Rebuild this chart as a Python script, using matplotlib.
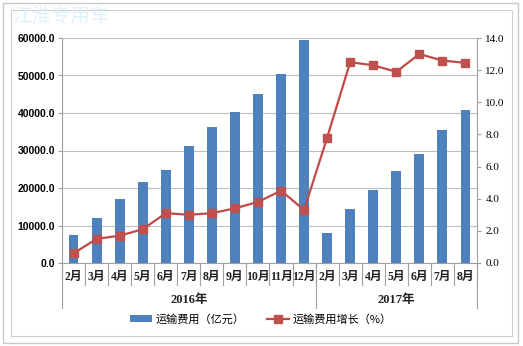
import matplotlib
matplotlib.use("Agg")
import matplotlib.pyplot as plt
from matplotlib.patches import Rectangle, Patch
from matplotlib.lines import Line2D
import matplotlib.transforms as mtransforms

months = ["2月", "3月", "4月", "5月", "6月", "7月", "8月", "9月", "10月", "11月", "12月",
          "2月", "3月", "4月", "5月", "6月", "7月", "8月"]
years = ["2016年", "2017年"]
year_counts = [11, 7]
cost = [7400, 12100, 17000, 21700, 24800, 31300, 36200, 40400, 45000, 50300, 59500,
        8000, 14400, 19600, 24450, 29200, 35400, 40800]
growth = [0.6, 1.5, 1.7, 2.1, 3.1, 3.0, 3.1, 3.4, 3.8, 4.5, 3.3,
          7.8, 12.5, 12.3, 11.9, 13.0, 12.6, 12.45]
left_ticks = [0, 10000, 20000, 30000, 40000, 50000, 60000]
right_ticks = [0, 2, 4, 6, 8, 10, 12, 14]

FAM = ["Liberation Serif", "Noto Sans CJK SC", "DejaVu Sans"]
CJK = ["Noto Sans CJK SC", "DejaVu Sans"]
BAR_C = "#4F81BD"
LINE_C = "#BE4B48"

fig = plt.figure(figsize=(5.23, 3.46), dpi=100)
W, H = 523, 346

# frames
fig.add_artist(Rectangle((3 / W, 1 - 343 / H), 515 / W, 340 / H, transform=fig.transFigure,
                         fill=False, edgecolor="#C8C8C8", linewidth=1.0))
fig.add_artist(Rectangle((10.5 / W, 1 - 336 / H), 501.5 / W, 326 / H, transform=fig.transFigure,
                         fill=False, edgecolor="#D0D0D0", linewidth=0.8))
fig.text(12 / W, 1 - 17 / H, "江淮专用车", family=CJK, fontsize=14, color="#E0F2F7",
         va="center", ha="left")

ax = fig.add_axes([62 / W, 1 - 263 / H, (477 - 62) / W, (263 - 38) / H])
x = list(range(len(months)))
ax.bar(x, cost, width=0.43, color=BAR_C, zorder=2)
ax.set_xlim(-0.5, len(months) - 0.5)
ax.set_ylim(0, 60000)
ax.set_yticks(left_ticks)
ax.set_yticklabels([f"{v:.1f}" for v in left_ticks], fontsize=7.5, fontweight="bold",
                   family="Liberation Sans")
ax.grid(axis="y", color="#BFBFBF", linewidth=0.8, zorder=0)
ax.set_axisbelow(True)
for s in ["top", "right"]:
    ax.spines[s].set_visible(False)
ax.spines["left"].set_color("#A0A0A0")
ax.spines["bottom"].set_color("#A0A0A0")
ax.tick_params(axis="y", length=3, color="#A0A0A0", pad=2)
ax.set_xticks([])

ax2 = ax.twinx()
ax2.plot(x, growth, color=LINE_C, linewidth=1.6, marker="s", markersize=6,
         markerfacecolor="#C0504D", markeredgecolor="#C0504D", zorder=3)
ax2.set_ylim(0, 14)
ax2.set_yticks(right_ticks)
ax2.set_yticklabels([f"{v:.1f}" for v in right_ticks], fontsize=8, family="Liberation Serif")
for s in ["top", "left", "bottom"]:
    ax2.spines[s].set_visible(False)
ax2.spines["right"].set_color("#A0A0A0")
ax2.tick_params(axis="y", length=3, color="#A0A0A0", pad=3)

# multi-level category axis
trans = mtransforms.blended_transform_factory(ax.transData, ax.transAxes)
ah = 225.0
for i, m in enumerate(months):
    ax.text(i, -14 / ah, m, transform=trans, ha="center", va="center",
            fontsize=8.5, fontweight="bold", family=FAM, color="#222222")
for k in range(len(months) + 1):
    ax.plot([k - 0.5, k - 0.5], [0, -22 / ah], transform=trans, color="#A0A0A0",
            linewidth=0.8, clip_on=False)
start = 0
bounds = [0]
for yname, cnt in zip(years, year_counts):
    ax.text(start + (cnt - 1) / 2, -37 / ah, yname, transform=trans, ha="center",
            va="center", fontsize=9, fontweight="bold", family=FAM, color="#222222")
    start += cnt
    bounds.append(start)
for b in bounds:
    ax.plot([b - 0.5, b - 0.5], [0, -45 / ah], transform=trans, color="#A0A0A0",
            linewidth=0.8, clip_on=False)

handles = [Patch(facecolor=BAR_C, edgecolor="none"),
           Line2D([0], [0], color=LINE_C, linewidth=1.6, marker="s", markersize=6,
                  markerfacecolor="#C0504D", markeredgecolor="#C0504D")]
fig.legend(handles, ["运输费用（亿元）", "运输费用增长（%）"], loc="center",
           bbox_to_anchor=(261 / W, 1 - 319 / H), ncol=2, frameon=False,
           prop={"family": CJK, "size": 8}, handlelength=2.0, handleheight=0.55,
           columnspacing=2.0, handletextpad=0.3)

fig.savefig("out.png", dpi=100)
